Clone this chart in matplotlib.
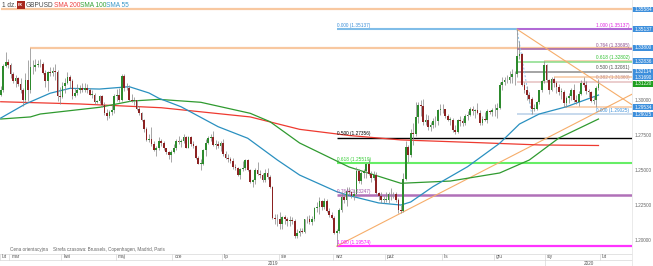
import matplotlib
matplotlib.use("Agg")
import matplotlib.pyplot as plt
import matplotlib.transforms as mtransforms
from matplotlib.patches import Rectangle
import numpy as np
import pandas as pd

plt.rcParams['font.family'] = ['Liberation Sans', 'DejaVu Sans']

# ---------------- data (prices in pips above 1.0000: 3080 -> 1.3080) ----------------
first_open = 3045
closes = [
    3080, 3250, 3280, 3260,
    3190, 3140, 3165, 3120, 3080, 3005, 3150, 3080, 3240, 3245, 3260, 3265, 3265, 3200, 3145, 3210, 3200, 3215, 3210, 3035, 3030,
    3110, 3125, 3170, 3145, 3035, 3060, 3080, 3095, 3075, 3090, 3080, 3045, 3045, 2995, 3000, 3035, 2970, 2910, 2890, 2920, 2935, 3035,
    3045, 3010, 3180, 3090, 3090, 3010, 3000, 3005, 2945, 2915, 2860, 2800, 2720, 2725, 2690, 2650, 2660, 2710, 2695, 2660, 2630, 2610, 2630,
    2665, 2710, 2705, 2715, 2740, 2665, 2740, 2690, 2680, 2590, 2550, 2550, 2650, 2700, 2735, 2740, 2685, 2690, 2680, 2700,
    2620, 2590, 2580, 2570, 2525, 2520, 2465, 2510, 2520, 2575, 2505, 2415, 2430, 2505, 2475, 2470, 2430, 2485, 2455, 2380, 2160, 2150, 2155,
    2115, 2165, 2150, 2140, 2145, 2140, 2030, 2050, 2065, 2060, 2150, 2150, 2130, 2155, 2230, 2240, 2280, 2240, 2285, 2210, 2180, 2160,
    2050, 2070, 2220, 2310, 2290, 2355, 2350, 2320, 2335, 2500, 2425, 2485, 2495, 2545, 2475, 2445, 2470, 2340, 2315, 2290, 2290,
    2290, 2330, 2335, 2330, 2290, 2215, 2210, 2440, 2670, 2610, 2770, 2765, 2885, 2970, 2960, 2850, 2865, 2810, 2830, 2855, 2855, 2935, 2945,
    2940, 2895, 2865, 2865, 2790, 2775, 2860, 2855, 2840, 2895, 2900, 2945, 2925, 2935, 2915, 2840, 2870, 2860, 2930, 2920, 2935,
    2935, 2950, 3115, 3135, 3150, 3150, 3170, 3195, 3190, 3325, 3335, 3115, 3075, 3045, 3015, 2945, 2945, 2990, 3075, 3140, 3255,
    3150, 3075, 3160, 3125, 3100, 3065, 3065, 2985, 3020, 3035, 3075, 3010, 2995, 3050, 3130, 3115, 3070, 3065, 3000, 3005, 3090, 3122,
]
highs = [
    3110, 3265, 3350, 3300,
    3270, 3210, 3185, 3175, 3165, 3090, 3200, 3290, 3381, 3290, 3300, 3290, 3300, 3280, 3225, 3215, 3240, 3245, 3265, 3220, 3100,
    3135, 3165, 3210, 3185, 3160, 3095, 3120, 3115, 3130, 3130, 3120, 3090, 3075, 3055, 3010, 3040, 3045, 2990, 2945, 2935, 2970, 3050,
    3085, 3095, 3195, 3190, 3125, 3115, 3050, 3030, 3010, 2965, 2920, 2870, 2810, 2765, 2815, 2715, 2675, 2740, 2730, 2715, 2665, 2640, 2645,
    2690, 2725, 2745, 2730, 2765, 2745, 2750, 2745, 2715, 2685, 2605, 2580, 2655, 2725, 2745, 2760, 2785, 2720, 2710, 2715,
    2725, 2640, 2620, 2595, 2590, 2545, 2525, 2520, 2570, 2580, 2580, 2515, 2440, 2520, 2560, 2505, 2480, 2510, 2520, 2470, 2390, 2190, 2190,
    2200, 2175, 2185, 2170, 2175, 2165, 2150, 2080, 2085, 2090, 2155, 2175, 2180, 2175, 2240, 2275, 2310, 2290, 2300, 2295, 2230, 2200,
    2175, 2080, 2230, 2345, 2335, 2385, 2380, 2355, 2370, 2525, 2510, 2495, 2515, 2555, 2580, 2500, 2500, 2490, 2345, 2345, 2320,
    2350, 2345, 2375, 2345, 2345, 2305, 2255, 2485, 2710, 2685, 2800, 2845, 2990, 2990, 3010, 3015, 2905, 2900, 2850, 2880, 2890, 2940, 2980,
    2975, 2945, 2905, 2885, 2875, 2825, 2870, 2890, 2875, 2905, 2925, 2955, 2965, 2945, 2985, 2935, 2890, 2920, 2940, 2935, 2950,
    2975, 2985, 3135, 3170, 3175, 3185, 3215, 3230, 3215, 3514, 3430, 3345, 3135, 3105, 3065, 3025, 2975, 3000, 3080, 3150, 3284,
    3265, 3155, 3170, 3169, 3140, 3120, 3095, 3075, 3035, 3060, 3090, 3120, 3045, 3070, 3150, 3170, 3140, 3085, 3070, 3035, 3110, 3155,
]
lows = [
    3035, 3065, 3240, 3235,
    3165, 3130, 3100, 3110, 3060, 2960, 2995, 3000, 3060, 3195, 3215, 3240, 3245, 3190, 3100, 3070, 3180, 3180, 3150, 3000, 2975,
    3020, 3055, 3120, 3090, 3015, 3030, 3045, 3055, 3065, 3065, 3060, 3040, 3020, 2980, 2985, 2985, 2955, 2900, 2865, 2880, 2900, 2915,
    3000, 2995, 3000, 3070, 3075, 3000, 2990, 2970, 2935, 2900, 2855, 2780, 2715, 2705, 2675, 2640, 2605, 2650, 2680, 2650, 2620, 2580, 2560,
    2625, 2650, 2690, 2670, 2695, 2660, 2660, 2680, 2660, 2585, 2545, 2505, 2540, 2605, 2690, 2710, 2675, 2655, 2660, 2640,
    2605, 2580, 2560, 2555, 2510, 2505, 2460, 2440, 2500, 2505, 2500, 2410, 2380, 2405, 2465, 2445, 2420, 2415, 2440, 2375, 2150, 2120, 2105,
    2080, 2080, 2120, 2105, 2105, 2115, 2015, 2015, 2030, 2050, 2050, 2125, 2120, 2110, 2140, 2200, 2190, 2220, 2225, 2200, 2165, 2150,
    2045, 1958, 2050, 2205, 2265, 2245, 2325, 2300, 2290, 2320, 2410, 2405, 2450, 2445, 2465, 2420, 2430, 2330, 2290, 2270, 2270,
    2275, 2270, 2290, 2300, 2275, 2195, 2195, 2200, 2430, 2560, 2600, 2685, 2750, 2845, 2895, 2830, 2830, 2790, 2785, 2805, 2810, 2825, 2900,
    2910, 2875, 2855, 2825, 2780, 2765, 2770, 2820, 2820, 2830, 2865, 2890, 2900, 2880, 2905, 2825, 2825, 2855, 2840, 2905, 2890,
    2895, 2880, 2945, 3080, 3115, 3125, 3130, 3125, 3115, 3175, 3300, 3110, 3060, 3010, 2995, 2903, 2930, 2935, 2975, 3065, 3130,
    3135, 3050, 3070, 3100, 3060, 3040, 3015, 2953, 2955, 2985, 3010, 2995, 2975, 2960, 3040, 3100, 3050, 3025, 2990, 2980, 2955, 3075,
]

# moving averages (trading-day index, value)
sma200_day = [0, 32, 65, 101, 121, 141, 162, 194, 218, 242]
sma200_val = [1.2994, 1.2978, 1.2951, 1.2885, 1.2796, 1.2752, 1.2720, 1.2700, 1.2684, 1.2680]
sma100_day = [0, 12, 16, 40, 53, 64, 81, 101, 109, 121, 141, 162, 182, 202, 214, 226, 242]
sma100_val = [1.2870, 1.2885, 1.2906, 1.2954, 1.2999, 1.3011, 1.2990, 1.2911, 1.2851, 1.2698,
              1.2526, 1.2409, 1.2425, 1.2483, 1.2576, 1.2734, 1.2870]
sma55_day = [0, 10, 20, 28, 40, 52, 60, 64, 73, 88, 100, 112, 121, 136, 141, 153, 162, 166, 175,
             189, 202, 210, 218, 229, 242]
sma55_val = [1.2877, 1.2978, 1.3055, 1.3090, 1.3085, 1.3102, 1.3057, 1.3019, 1.2958, 1.2815,
             1.2732, 1.2576, 1.2468, 1.2349, 1.2321, 1.2268, 1.2253, 1.2275, 1.2385, 1.2528,
             1.2696, 1.2834, 1.2906, 1.2958, 1.3042]

# Fibonacci set A (from the September low)
fibA_ratio = ['0.000', '0.500', '0.618', '0.764', '1.000']
fibA_price = [1.35137, 1.27356, 1.25519, 1.23247, 1.19574]
# Fibonacci set B (December high -> December low)
fibB_ratio = ['1.000', '0.764', '0.618', '0.500', '0.382', '0.000']
fibB_price = [1.35137, 1.33695, 1.32802, 1.32081, 1.31360, 1.29025]

# orange horizontal levels
level_price = [1.3656, 1.3381, 1.32836, 1.31690, 1.29534]
level_day = [0, 12, 220, 224, 228]

# trend lines (anchor days and prices)
down_day, down_price = [209, 242], [1.3514, 1.3130]
up_day, up_price = [136, 162], [1.1958, 1.2195]
fib_diag_day, fib_diag_price = [209, 215], [1.35137, 1.29025]

axis_levels = [1.30, 1.275, 1.25, 1.225, 1.20]
box_labels = ['1.35584', '1.35137', '1.33800', '1.32836', '1.32114', '1.31690', '1.29534', '1.29025']
box_prices = [1.3656, 1.35137, 1.3380, 1.32836, 1.32114, 1.31690, 1.29534, 1.29025]
last_price = 1.31220

month_pl = {1: 'sty', 2: 'lut', 3: 'mar', 4: 'kwi', 5: 'maj', 6: 'cze', 7: 'lip',
            8: 'sie', 9: 'wrz', 10: 'paź', 11: 'lis', 12: 'gru'}

# ---------------- build ----------------
dates = pd.bdate_range('2019-02-25', '2020-01-31')
dates = dates[~dates.isin(pd.to_datetime(['2019-12-25', '2020-01-01']))]
n = min(len(dates), len(closes), len(highs), len(lows))
dates = dates[:n]
c = np.array(closes[:n]) / 10000 + 1
h = np.array(highs[:n]) / 10000 + 1
l = np.array(lows[:n]) / 10000 + 1
o = np.concatenate([[first_open / 10000 + 1], c[:-1]])
x = np.arange(n)

W, H = 653, 266
fig = plt.figure(figsize=(W / 100, H / 100), dpi=100)
ax = fig.add_axes([0, (H - 253) / H, 632 / W, 253 / H])
XL = (-0.3, 255.57)
YL = (1.19089, 1.37238)
ax.set_xlim(*XL)
ax.set_ylim(*YL)
ax.axis('off')
ppu = 253 / (YL[1] - YL[0])  # pixels per price unit
blend = mtransforms.blended_transform_factory(ax.transAxes, ax.transData)
blend_xd = mtransforms.blended_transform_factory(ax.transData, ax.transAxes)

# orange levels
for p, d in zip(level_price, level_day):
    lw = 1.6 if d < 100 else 1.1
    ax.hlines(p, d, XL[1], color='#f8c8a0', lw=lw, zorder=1)

# fib A
fa_line = ['#80bde8', '#000000', '#66ee66', '#b070b8', '#ff33ff']
fa_txt = ['#3a8ed8', '#000000', '#33cc33', '#a050a8', '#ff00ff']
fa_lw = [1.5, 1.0, 1.5, 1.8, 1.6]
for r, p, lc, tc, lw in zip(fibA_ratio, fibA_price, fa_line, fa_txt, fa_lw):
    ax.hlines(p, 136, XL[1], color=lc, lw=lw, zorder=1)
    ax.text(136, p + 1.5 / ppu, f'{r} ({p:.5f})', fontsize=3.4, color=tc,
            ha='left', va='bottom', zorder=5)

# fib B
fb_line = ['#c050d0', '#a060a8', '#88dd88', '#8c8c8c', '#e6c0c0', '#b8d0e8']
fb_txt = ['#e020e0', '#905090', '#30c030', '#505050', '#c09090', '#3a8ed8']
for r, p, lc, tc in zip(fibB_ratio, fibB_price, fb_line, fb_txt):
    ax.hlines(p, 209, XL[1], color=lc, lw=1.1, zorder=1)
    ax.text(XL[1] - 1.0, p + 1.5 / ppu, f'{r} ({p:.5f})', fontsize=3.4, color=tc,
            ha='right', va='bottom', zorder=5)
ax.plot(fib_diag_day, fib_diag_price, color='#8cc0e8', lw=0.7, ls=(0, (2, 2)), zorder=2)

# trend lines extended to right edge
for dd, pp in ((down_day, down_price), (up_day, up_price)):
    slope = (pp[1] - pp[0]) / (dd[1] - dd[0])
    ax.plot([dd[0], XL[1]], [pp[0], pp[0] + slope * (XL[1] - dd[0])],
            color='#f6ad6a', lw=0.8, zorder=2)

# moving averages
ax.plot(sma200_day, sma200_val, color='#ee3a30', lw=0.9, zorder=3)
ax.plot(sma100_day, sma100_val, color='#2f9a2f', lw=0.9, zorder=3)
ax.plot(sma55_day, sma55_val, color='#2a90c0', lw=0.9, zorder=3)

# candles
up = c >= o
ax.vlines(x, l, h, color='#8e8e8e', lw=0.55, zorder=4)
body_h = np.maximum(np.abs(c - o), 0.0003)
ax.bar(x[up], body_h[up], bottom=np.minimum(o, c)[up], width=0.7, color='#2d8a2d', lw=0, zorder=4)
ax.bar(x[~up], body_h[~up], bottom=np.minimum(o, c)[~up], width=0.7, color='#8c2222', lw=0, zorder=4)

# right axis separator & labels
fig.add_artist(plt.Line2D([632 / W, 632 / W], [0, 1], color='#e6e6e6', lw=0.6))
for p in axis_levels:
    ax.text(1.004, p, f'{p:.5f}', transform=blend, fontsize=3.4, color='#666666',
            ha='left', va='center', clip_on=False)
for s, p in zip(box_labels, box_prices):
    ax.add_patch(Rectangle((1.0, p - 2.9 / ppu), 21 / 632, 5.8 / ppu, transform=blend,
                           facecolor='#3d8fdc', edgecolor='none', clip_on=False, zorder=6))
    ax.text(1.004, p, s, transform=blend, fontsize=3.4, color='white',
            ha='left', va='center', clip_on=False, zorder=7)
ax.add_patch(Rectangle((1.0, last_price - 2.9 / ppu), 21 / 632, 5.8 / ppu, transform=blend,
                       facecolor='#1f9f1f', edgecolor='none', clip_on=False, zorder=6))
ax.text(1.004, last_price, f'{last_price:.5f}', transform=blend, fontsize=3.4, color='white',
        ha='left', va='center', clip_on=False, zorder=7)

# bottom month / year rows
def fy(py):
    return (253 - py) / 253

starts = [0] + [i for i in range(1, n) if dates[i].month != dates[i - 1].month]
labels = [month_pl[dates[i].month] for i in starts]
starts.append(n)
labels.append('lut')
gridc = '#d8d8d8'
ax.plot([XL[0], XL[1]], [fy(253.5), fy(253.5)], transform=blend_xd, color=gridc, lw=0.5, clip_on=False)
ax.plot([XL[0], XL[1]], [fy(260), fy(260)], transform=blend_xd, color=gridc, lw=0.5, clip_on=False)
for s, lab in zip(starts, labels):
    xs = max(s - 0.5, XL[0])
    ax.plot([xs, xs], [fy(253.5), fy(260)], transform=blend_xd, color=gridc, lw=0.5, clip_on=False)
    ax.text(xs + 0.8, fy(256.8), lab, transform=blend_xd, fontsize=3.4, color='#555555',
            ha='left', va='center', clip_on=False)
jan_start = [i for i in range(1, n) if dates[i].year != dates[i - 1].year][0] - 0.5
ax.plot([jan_start, jan_start], [fy(260), fy(266)], transform=blend_xd, color=gridc, lw=0.5, clip_on=False)
ax.text((XL[0] + jan_start) / 2, fy(263.2), '2019', transform=blend_xd, fontsize=3.4,
        color='#555555', ha='center', va='center', clip_on=False)
ax.text((jan_start + XL[1]) / 2, fy(263.2), '2020', transform=blend_xd, fontsize=3.4,
        color='#555555', ha='center', va='center', clip_on=False)

# footer / header
fig.text(10 / W, 1 - 250 / H, 'Cena orientacyjna    Strefa czasowa: Brussels, Copenhagen, Madrid, Paris',
         fontsize=3.3, color='#666666', ha='left', va='center')
hy = 1 - 5.5 / H
fig.text(2 / W, hy, '1 dz.', fontsize=4.7, color='#444444', ha='left', va='center')
fig.patches.append(Rectangle((17 / W, 1 - 9 / H), 7.5 / W, 7.5 / H, transform=fig.transFigure,
                             facecolor='#a8281e', edgecolor='none'))
fig.text(20.75 / W, hy, 'FX', fontsize=2.8, color='white', ha='center', va='center', weight='bold')
fig.text(26 / W, hy, 'GBPUSD', fontsize=4.7, color='#444444', ha='left', va='center')
fig.text(53.5 / W, hy, 'SMA 200', fontsize=4.7, color='#ee4040', ha='left', va='center')
fig.text(80 / W, hy, 'SMA 100', fontsize=4.7, color='#33a033', ha='left', va='center')
fig.text(106.5 / W, hy, 'SMA 55', fontsize=4.7, color='#3a98c8', ha='left', va='center')

fig.savefig('out.png', dpi=100, facecolor='white')
